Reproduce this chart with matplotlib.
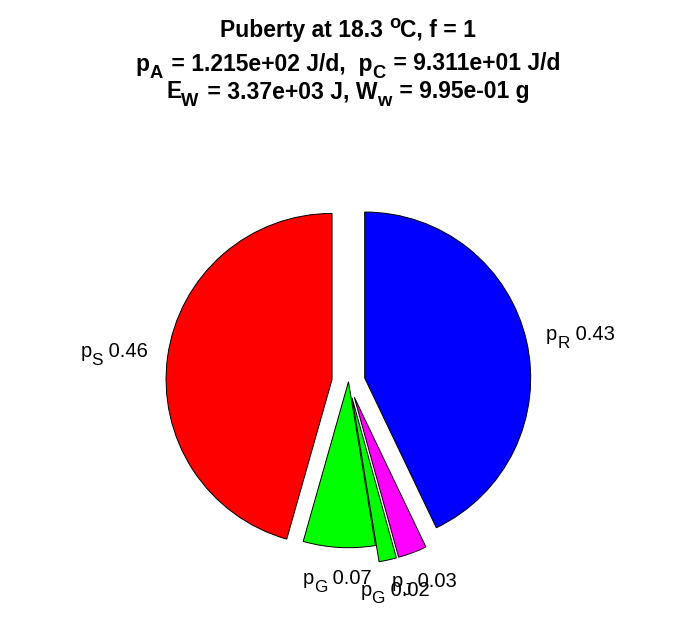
import numpy as np
import matplotlib
matplotlib.use("Agg")
import matplotlib.pyplot as plt
from matplotlib.transforms import IdentityTransform

plt.rcParams['font.family'] = ['Liberation Sans', 'DejaVu Sans']

# data (clockwise from 12 o'clock)
names = [('p', 'R'), ('p', 'J'), ('p', 'G'), ('p', 'G'), ('p', 'S')]
fractions = [0.429, 0.028, 0.017, 0.070, 0.456]
colors = ['#0000ff', '#ff00ff', '#00ff00', '#00ff00', '#ff0000']
explode = [0.1, 0.1, 0.1, 0.0, 0.1]

# title pieces: (text, kind) kind: n normal, b subscript, p superscript
title_lines = [
    [('Puberty at 18.3 ', 'n'), ('o', 'p'), ('C, f = 1', 'n')],
    [('p', 'n'), ('A', 'b'), (' = 1.215e+02 J/d,  p', 'n'), ('C', 'b'),
     (' = 9.311e+01 J/d', 'n')],
    [('E', 'n'), ('W', 'b'), (' = 3.37e+03 J, W', 'n'), ('w', 'b'),
     (' = 9.95e-01 g', 'n')],
]

W, H = 696, 618
fig = plt.figure(figsize=(W / 100, H / 100), dpi=100)
renderer = fig.canvas.get_renderer()

cx, cy, R = 348.5, 381.7, 166.0   # pixel centre (from top) and radius
lim = 1.45
aw = 2 * lim * R
ax = fig.add_axes([(cx - aw / 2) / W, (H - cy - aw / 2) / H, aw / W, aw / H])

wedges, _ = ax.pie(fractions, colors=colors, explode=explode, startangle=90,
                   counterclock=False, radius=1.0,
                   wedgeprops=dict(edgecolor='black', linewidth=0.7))
ax.set_xlim(-lim, lim)
ax.set_ylim(-lim, lim)
ax.axis('off')


def piece_width(s, fs, weight):
    t1 = fig.text(0, 0, '|' + s + '|', fontsize=fs, fontweight=weight)
    t2 = fig.text(0, 0, '||', fontsize=fs, fontweight=weight)
    w = t1.get_window_extent(renderer).width - t2.get_window_extent(renderer).width
    t1.remove()
    t2.remove()
    return w


def rich(X, Y, pieces, size, weight='normal', ha='center', va='center',
         sub_scale=0.8, sub_shift=0.32, sup_shift=0.36, gap=0.0):
    em = size * fig.dpi / 72.0
    specs = []
    total = 0.0
    has_sub = False
    for s, kind in pieces:
        fs = size if kind == 'n' else size * sub_scale
        w = piece_width(s, fs, weight)
        if kind == 'b':
            w += gap * em
        specs.append((s, kind, fs, w))
        total += w
        has_sub = has_sub or kind == 'b'
    if ha == 'center':
        x0 = X - total / 2
    elif ha == 'right':
        x0 = X - total
    else:
        x0 = X
    if va == 'center':
        drop = sub_shift * em if has_sub else 0.0
        base = Y - (0.716 * em - drop) / 2
    else:
        base = Y
    x = x0
    for s, kind, fs, w in specs:
        dy = 0.0
        if kind == 'b':
            dy = -sub_shift * em
        elif kind == 'p':
            dy = sup_shift * em
        fig.text(x, base + dy, s, fontsize=fs, fontweight=weight,
                 transform=IdentityTransform(), ha='left', va='baseline')
        x += w


for w, (main, sub), frac, ex in zip(wedges, names, fractions, explode):
    tm = np.deg2rad((w.theta1 + w.theta2) / 2)
    c, s = np.cos(tm), np.sin(tm)
    ox, oy = ex * c, ex * s
    if abs(c) > 0.6:
        r = 1.12
        ha = 'left' if c > 0 else 'right'
    else:
        r = 1.2
        ha = 'center'
    X, Y = ax.transData.transform((ox + r * c, oy + r * s))
    rich(X, Y, [(main, 'n'), (sub, 'b'), (f' {frac:.2f}', 'n')], 14.5,
         ha=ha, va='center', sub_scale=0.85, sub_shift=0.38)

baselines = [36.5, 70.5, 98.3]
for pieces, yb in zip(title_lines, baselines):
    rich(W / 2, H - yb, pieces, 16.5, weight='bold', ha='center',
         va='baseline', sub_scale=0.8, sub_shift=0.32, gap=0.08)

fig.savefig('out.png', dpi=100)
